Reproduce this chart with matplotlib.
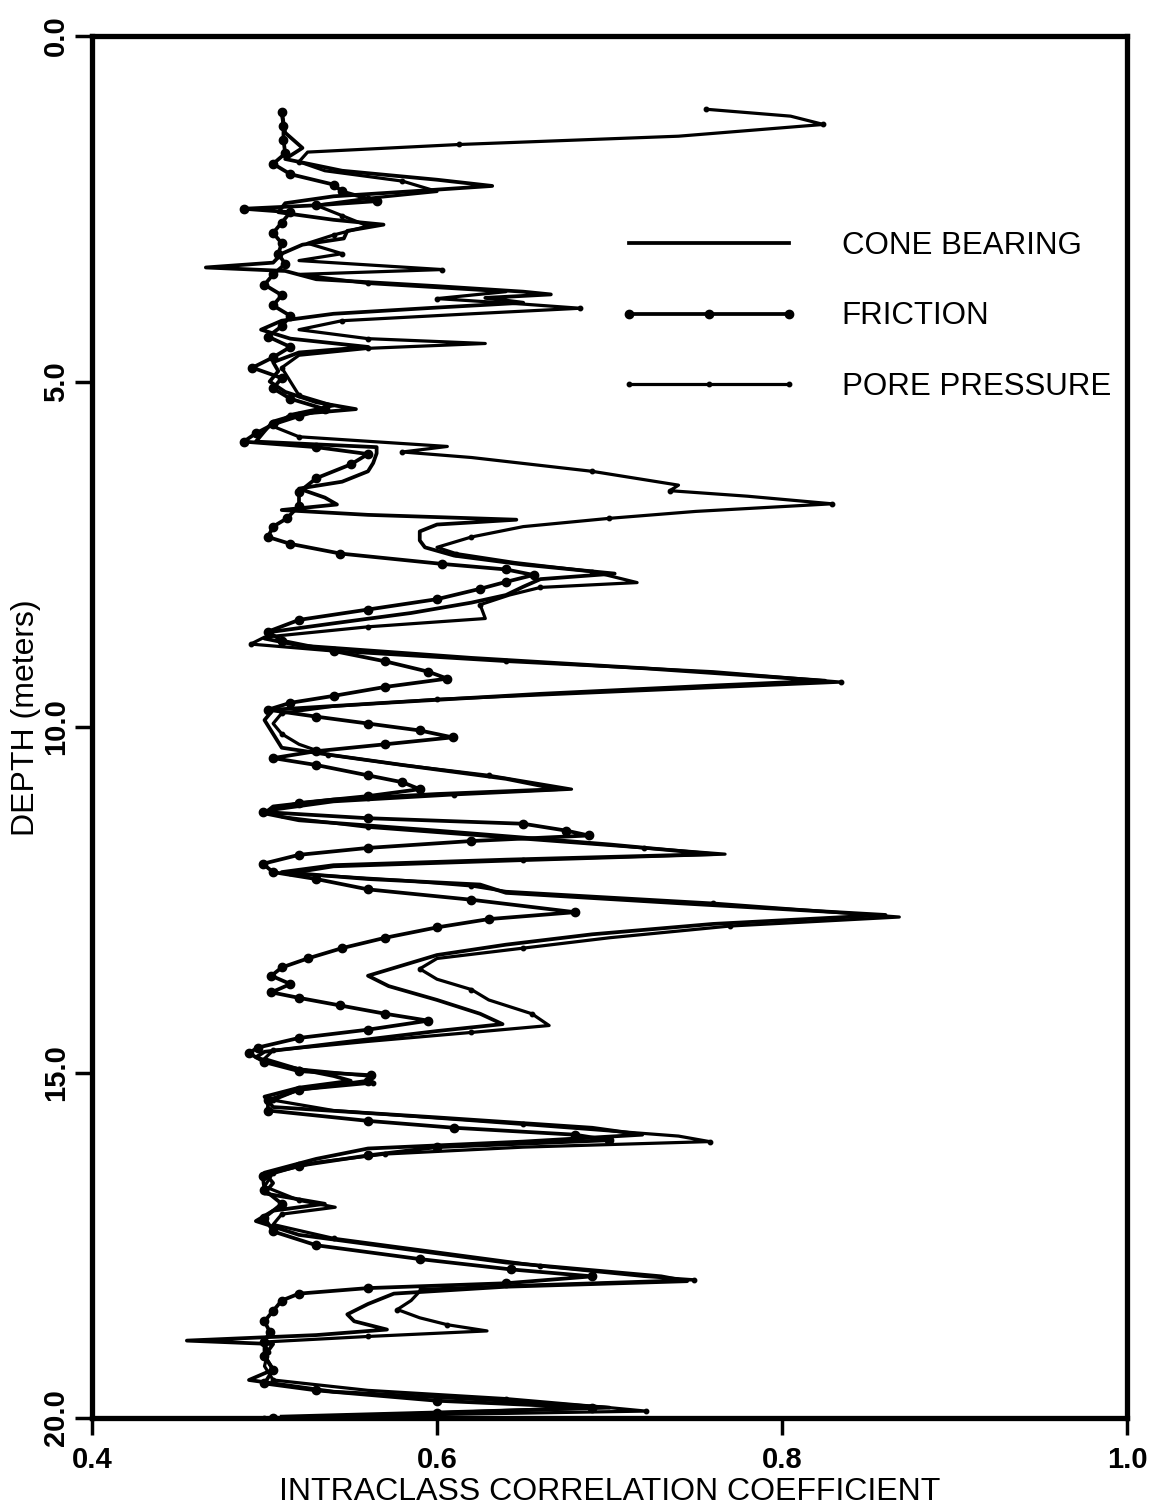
import matplotlib
matplotlib.use("Agg")
import matplotlib.pyplot as plt
from matplotlib.lines import Line2D

OUTPUT_PLOT = "out.png"

# depth (m) / intraclass correlation
CB_DEPTH = [1.10, 1.40, 1.62, 1.78, 1.95, 2.08, 2.17, 2.24, 2.32, 2.42, 2.55, 2.66, 2.73, 2.82, 2.93,
            3.02, 3.15, 3.28, 3.35, 3.40, 3.52, 3.62, 3.70, 3.74, 3.79, 3.86, 3.93, 4.02, 4.12, 4.25,
            4.38, 4.50, 4.58, 4.72, 4.85, 5.00, 5.15, 5.30, 5.40, 5.47, 5.58, 5.72, 5.87, 5.95, 6.04,
            6.18, 6.30, 6.45, 6.55, 6.68, 6.78, 6.86, 6.93, 7.00, 7.07, 7.17, 7.30, 7.40, 7.52, 7.65,
            7.78, 7.86, 7.97, 8.09, 8.20, 8.35, 8.50, 8.62, 8.72, 8.82, 9.00, 9.15, 9.33, 9.40, 9.52,
            9.65, 9.75, 9.90, 10.10, 10.30, 10.40, 10.55, 10.75, 10.90, 10.97, 11.05, 11.15, 11.25,
            11.35, 11.50, 11.70, 11.84, 11.92, 12.00, 12.10, 12.20, 12.28, 12.40, 12.55, 12.72, 12.85,
            13.00, 13.15, 13.30, 13.45, 13.60, 13.75, 13.95, 14.15, 14.30, 14.40, 14.55, 14.70, 14.78,
            14.90, 15.05, 15.12, 15.22, 15.35, 15.50, 15.65, 15.80, 15.90, 16.00, 16.10, 16.25, 16.45,
            16.60, 16.75, 16.90, 17.00, 17.15, 17.35, 17.55, 17.75, 17.95, 18.02, 18.10, 18.20, 18.35,
            18.50, 18.60, 18.72, 18.80, 18.88, 18.93, 19.10, 19.30, 19.45, 19.62, 19.75, 19.85, 19.92,
            19.98]
CB_ICC = [0.510, 0.512, 0.522, 0.512, 0.545, 0.600, 0.632, 0.590, 0.540, 0.512, 0.508, 0.540, 0.569, 0.548, 0.546,
          0.522, 0.510, 0.505, 0.466, 0.512, 0.530, 0.600, 0.650, 0.666, 0.628, 0.650, 0.600, 0.540, 0.510, 0.498,
          0.515, 0.560, 0.520, 0.505, 0.508, 0.503, 0.512, 0.530, 0.553, 0.520, 0.505, 0.500, 0.495, 0.565, 0.565,
          0.563, 0.560, 0.545, 0.520, 0.535, 0.542, 0.510, 0.560, 0.646, 0.600, 0.590, 0.590, 0.593, 0.610, 0.650,
          0.703, 0.660, 0.650, 0.640, 0.620, 0.585, 0.540, 0.505, 0.500, 0.520, 0.620, 0.720, 0.825, 0.760, 0.660,
          0.570, 0.505, 0.500, 0.505, 0.510, 0.537, 0.580, 0.640, 0.670, 0.600, 0.540, 0.505, 0.500,
          0.520, 0.600, 0.700, 0.760, 0.640, 0.540, 0.510, 0.560, 0.625, 0.640, 0.740, 0.860, 0.760,
          0.690, 0.640, 0.600, 0.580, 0.560, 0.572, 0.600, 0.625, 0.638, 0.600, 0.550, 0.500, 0.495,
          0.510, 0.540, 0.550, 0.520, 0.500, 0.505, 0.600, 0.690, 0.719, 0.650, 0.560, 0.530, 0.500,
          0.505, 0.500, 0.535, 0.505, 0.495, 0.520, 0.580, 0.640, 0.730, 0.745, 0.640, 0.575, 0.560,
          0.548, 0.552, 0.571, 0.530, 0.455, 0.505, 0.500, 0.505, 0.491, 0.540, 0.640, 0.700, 0.600,
          0.510]

FR_DEPTH = [1.10, 1.30, 1.50, 1.70, 1.85, 2.00, 2.15, 2.25, 2.39, 2.45, 2.50, 2.55, 2.70, 2.85, 3.00,
            3.15, 3.30, 3.45, 3.60, 3.75, 3.90, 4.05, 4.20, 4.35, 4.50, 4.65, 4.80, 4.95, 5.10, 5.25,
            5.40, 5.50, 5.62, 5.75, 5.87, 5.95, 6.05, 6.20, 6.40, 6.60, 6.80, 6.98, 7.10, 7.25, 7.35,
            7.49, 7.64, 7.72, 7.80, 7.90, 8.00, 8.15, 8.30, 8.45, 8.62, 8.75, 8.90, 9.05, 9.20, 9.30,
            9.42, 9.55, 9.65, 9.75, 9.85, 9.95, 10.05, 10.15, 10.25, 10.35, 10.45, 10.55, 10.70, 10.80,
            10.90, 11.00, 11.10, 11.23, 11.32, 11.40, 11.50, 11.57, 11.65, 11.75, 11.85, 11.98, 12.10,
            12.20, 12.35, 12.50, 12.68, 12.78, 12.90, 13.05, 13.20, 13.35, 13.48, 13.60, 13.72, 13.84,
            13.92, 14.03, 14.15, 14.25, 14.38, 14.50, 14.64, 14.72, 14.85, 14.98, 15.04, 15.12, 15.25,
            15.40, 15.55, 15.70, 15.80, 15.90, 15.98, 16.08, 16.20, 16.35, 16.50, 16.70, 16.90, 17.10,
            17.30, 17.50, 17.70, 17.85, 17.95, 18.05, 18.12, 18.20, 18.30, 18.45, 18.60, 18.75, 18.90,
            19.10, 19.30, 19.50, 19.60, 19.75, 19.85, 19.93, 20.00]
FR_ICC = [0.510, 0.511, 0.511, 0.512, 0.505, 0.515, 0.540, 0.545, 0.565, 0.530, 0.488, 0.515, 0.510, 0.505, 0.510,
          0.508, 0.512, 0.505, 0.500, 0.510, 0.505, 0.515, 0.510, 0.502, 0.515, 0.505, 0.493, 0.510, 0.505, 0.515,
          0.535, 0.520, 0.505, 0.495, 0.488, 0.530, 0.560, 0.550, 0.530, 0.520, 0.520, 0.513, 0.505, 0.502, 0.515,
          0.544, 0.603, 0.640, 0.656, 0.640, 0.625, 0.600, 0.560, 0.520, 0.502, 0.510, 0.540, 0.570, 0.595, 0.606,
          0.570, 0.540, 0.515, 0.502, 0.530, 0.560, 0.590, 0.609, 0.570, 0.530, 0.505, 0.530, 0.560, 0.580,
          0.590, 0.560, 0.520, 0.499, 0.560, 0.650, 0.675, 0.688, 0.620, 0.560, 0.520, 0.499, 0.505,
          0.530, 0.560, 0.620, 0.680, 0.630, 0.600, 0.570, 0.545, 0.525, 0.510, 0.504, 0.515, 0.504,
          0.520, 0.544, 0.570, 0.595, 0.560, 0.520, 0.496, 0.491, 0.500, 0.520, 0.562, 0.560, 0.520,
          0.502, 0.502, 0.560, 0.610, 0.680, 0.700, 0.600, 0.560, 0.520, 0.499, 0.500, 0.510, 0.500,
          0.505, 0.530, 0.590, 0.643, 0.690, 0.640, 0.560, 0.520, 0.510, 0.505, 0.500, 0.503, 0.500,
          0.500, 0.505, 0.500, 0.530, 0.600, 0.690, 0.600, 0.505]

PP_DEPTH = [1.06, 1.16, 1.28, 1.45, 1.57, 1.68, 1.82, 1.95, 2.10, 2.25, 2.35, 2.45, 2.60, 2.75, 2.88,
            3.00, 3.15, 3.25, 3.38, 3.45, 3.58, 3.70, 3.80, 3.88, 3.94, 4.02, 4.12, 4.25, 4.38, 4.45,
            4.52, 4.62, 4.80, 5.00, 5.20, 5.35, 5.48, 5.65, 5.80, 5.94, 6.02, 6.10, 6.30, 6.50, 6.58,
            6.66, 6.77, 6.88, 6.98, 7.10, 7.25, 7.40, 7.49, 7.62, 7.75, 7.91, 7.98, 8.09, 8.23, 8.43,
            8.55, 8.70, 8.80, 8.90, 9.05, 9.20, 9.35, 9.45, 9.60, 9.70, 9.80, 9.95, 10.10, 10.25, 10.40,
            10.55, 10.70, 10.90, 10.98, 11.08, 11.20, 11.30, 11.45, 11.60, 11.75, 11.84, 11.93, 12.02,
            12.12, 12.22, 12.30, 12.38, 12.55, 12.75, 12.88, 13.05, 13.20, 13.35, 13.50, 13.65, 13.80,
            13.95, 14.15, 14.32, 14.42, 14.55, 14.68, 14.80, 14.95, 15.05, 15.15, 15.25, 15.40, 15.55,
            15.75, 15.92, 16.00, 16.08, 16.18, 16.30, 16.45, 16.65, 16.85, 16.95, 17.05, 17.20, 17.40,
            17.60, 17.80, 17.95, 18.00, 18.08, 18.14, 18.30, 18.43, 18.55, 18.65, 18.74, 18.82, 18.90,
            19.05, 19.25, 19.45, 19.60, 19.72, 19.85, 19.90, 19.95, 20.00]
PP_ICC = [0.756, 0.805, 0.824, 0.740, 0.613, 0.525, 0.520, 0.535, 0.580, 0.600, 0.560, 0.530, 0.545, 0.560, 0.540,
          0.525, 0.545, 0.520, 0.603, 0.520, 0.560, 0.640, 0.600, 0.650, 0.683, 0.620, 0.545, 0.520, 0.560, 0.628,
          0.560, 0.520, 0.510, 0.515, 0.520, 0.540, 0.515, 0.505, 0.520, 0.606, 0.580, 0.620, 0.690, 0.740, 0.735,
          0.780, 0.829, 0.750, 0.700, 0.650, 0.620, 0.600, 0.611, 0.645, 0.690, 0.716, 0.660, 0.642, 0.625, 0.628,
          0.560, 0.500, 0.492, 0.540, 0.640, 0.760, 0.834, 0.740, 0.600, 0.540, 0.510, 0.505, 0.510, 0.520, 0.537,
          0.580, 0.630, 0.678, 0.610, 0.540, 0.505, 0.510, 0.560, 0.640, 0.720, 0.767, 0.650, 0.540,
          0.515, 0.580, 0.620, 0.640, 0.760, 0.868, 0.770, 0.700, 0.650, 0.600, 0.590, 0.600, 0.620,
          0.630, 0.655, 0.665, 0.620, 0.560, 0.505, 0.500, 0.520, 0.560, 0.563, 0.520, 0.505, 0.540,
          0.650, 0.740, 0.758, 0.650, 0.570, 0.530, 0.505, 0.500, 0.520, 0.541, 0.510, 0.505, 0.540,
          0.600, 0.660, 0.720, 0.749, 0.650, 0.591, 0.585, 0.577, 0.590, 0.606, 0.629, 0.560, 0.500,
          0.502, 0.500, 0.505, 0.560, 0.640, 0.700, 0.721, 0.600, 0.500]

X_TICKS = [0.4, 0.6, 0.8, 1.0]
Y_TICKS = [0.0, 5.0, 10.0, 15.0, 20.0]
SERIES_LABELS = ["CONE BEARING", "FRICTION", "PORE PRESSURE"]

FONT = ["Liberation Sans", "DejaVu Sans"]


def make_plot(path):
    fig = plt.figure(figsize=(11.52, 15.10), dpi=100)
    # axes box: x 92..1127 px, y 36..1418 px
    ax = fig.add_axes([92 / 1152, 1 - 1418 / 1510, 1035 / 1152, 1382 / 1510])

    ax.plot(CB_ICC, CB_DEPTH, color="black", lw=2.7)
    ax.plot(FR_ICC, FR_DEPTH, color="black", lw=2.7, marker="o", ms=6, markevery=1)
    ax.plot(PP_ICC, PP_DEPTH, color="black", lw=2.3, marker="o", ms=3.2, markevery=2)

    ax.set_xlim(0.4, 1.0)
    ax.set_ylim(20.0, 0.0)
    ax.set_xticks(X_TICKS)
    ax.set_xticklabels([f"{v:.1f}" for v in X_TICKS], fontsize=21, fontweight="bold", family=FONT)
    ax.set_yticks(Y_TICKS)
    ax.set_yticklabels([f"{v:.1f}" for v in Y_TICKS], fontsize=21, fontweight="bold", family=FONT,
                       rotation=90, va="center")
    ax.tick_params(direction="out", length=12, width=2.5)
    ax.tick_params(axis="x", pad=8)
    ax.tick_params(axis="y", pad=4)
    for s in ax.spines.values():
        s.set_linewidth(3.8)

    ax.set_xlabel("INTRACLASS CORRELATION COEFFICIENT", fontsize=23, family=FONT, labelpad=2)
    fig.text(26 / 1152, 1 - 718 / 1510, "DEPTH (meters)", rotation=90, fontsize=23, family=FONT,
             ha="center", va="center")

    handles = [
        Line2D([], [], color="black", lw=2.7),
        Line2D([], [], color="black", lw=2.7, marker="o", ms=6),
        Line2D([], [], color="black", lw=2.3, marker="o", ms=3.2),
    ]
    ax.legend(handles, SERIES_LABELS, loc="upper left", bbox_to_anchor=(0.51, 0.859),
              frameon=False, numpoints=3, handlelength=5.7, handletextpad=1.4,
              labelspacing=1.3, borderpad=0, borderaxespad=0,
              prop={"family": FONT, "size": 22.5})

    fig.savefig(path, dpi=100)
    print(f"Plot saved to {path}")


if __name__ == "__main__":
    make_plot(OUTPUT_PLOT)
